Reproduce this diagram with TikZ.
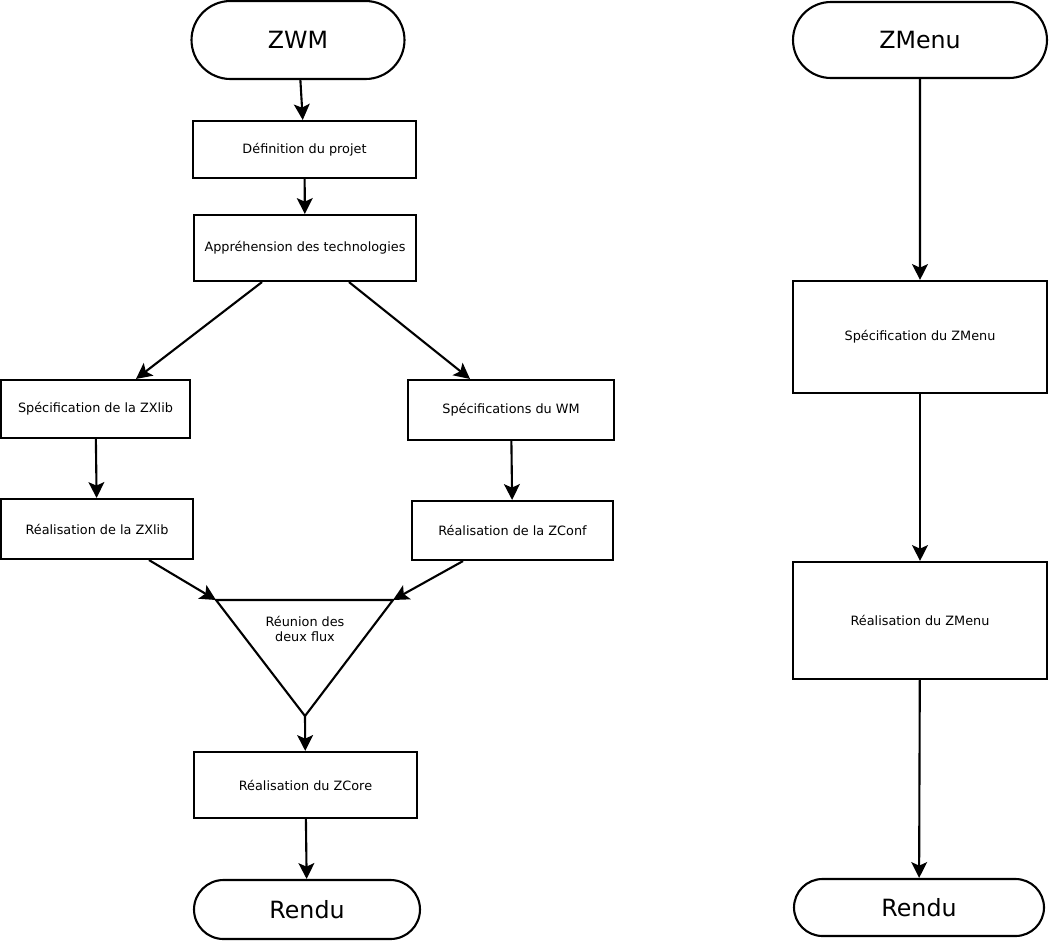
\documentclass[tikz,border=0pt]{standalone}
\usepackage{fontspec}
\setmainfont{DejaVu Sans}
\usepackage{tikz}
\usetikzlibrary{positioning, calc, arrows.meta, shapes.misc}
\tikzset{>={Stealth[length=9pt,width=9pt,inset=2pt]}}
\tikzset{
    etape/.style    = {draw, line width=1.2pt, rectangle, align=center, font=\fontsize{7.3}{8.8}\selectfont, inner sep=2pt},
    terminal/.style = {draw, line width=1.2pt, rounded rectangle, font=\fontsize{13.5}{16}\selectfont, inner sep=2pt},
    fleche/.style   = {->, line width=1.2pt},
}

\begin{document}
\begin{tikzpicture}
    \useasboundingbox (0,0) rectangle (21.04,-18.84);
    % colonne ZWM
    \node [terminal, minimum width=4.40cm, minimum height=1.56cm] (zwm) at (5.96,-0.80) {ZWM};
    \node [etape, minimum width=4.46cm, minimum height=1.14cm] (definition) at (6.09,-2.99) {Définition du projet};
    \node [etape, minimum width=4.44cm, minimum height=1.32cm] (apprehension) at (6.10,-4.96) {Appréhension des technologies};
    \node [etape, minimum width=3.78cm, minimum height=1.16cm] (speczxlib) at (1.91,-8.18) {Spécification de la ZXlib};
    \node [etape, minimum width=4.12cm, minimum height=1.20cm] (specwm) at (10.22,-8.20) {Spécifications du WM};
    \node [etape, minimum width=3.84cm, minimum height=1.20cm] (realzxlib) at (1.94,-10.58) {Réalisation de la ZXlib};
    \node [etape, minimum width=4.02cm, minimum height=1.18cm] (realzconf) at (10.25,-10.61) {Réalisation de la ZConf};
    \coordinate (reunionG) at (4.32,-12.00);
    \coordinate (reunionD) at (7.86,-12.00);
    \coordinate (reunionB) at (6.10,-14.32);
    \draw [line width=1.2pt, line join=miter] (reunionG) -- (reunionD) -- (reunionB) -- cycle;
    \node [align=center, font=\fontsize{7.3}{8.8}\selectfont] (reunion) at (6.10,-12.58) {Réunion des\\deux flux};
    \node [etape, minimum width=4.46cm, minimum height=1.32cm] (realzcore) at (6.11,-15.70) {Réalisation du ZCore};
    \node [terminal, minimum width=4.66cm, minimum height=1.18cm] (renduwm) at (6.14,-18.19) {Rendu};

    \draw [fleche] (zwm) -- (definition);
    \draw [fleche] (definition) -- (apprehension);
    \draw [fleche] ([xshift=-0.86cm]apprehension.south) -- ([xshift=0.81cm]speczxlib.north);
    \draw [fleche] ([xshift=0.88cm]apprehension.south) -- ([xshift=-0.82cm]specwm.north);
    \draw [fleche] (speczxlib) -- (realzxlib);
    \draw [fleche] (specwm) -- (realzconf);
    \draw [fleche] ([xshift=1.04cm]realzxlib.south) -- (reunionG);
    \draw [fleche] ([xshift=-0.99cm]realzconf.south) -- (reunionD);
    \draw [fleche] (reunionB) -- (realzcore);
    \draw [fleche] (realzcore) -- (renduwm);

    % colonne ZMenu
    \node [terminal, minimum width=5.22cm, minimum height=1.52cm] (zmenu) at (18.40,-0.80) {ZMenu};
    \node [etape, minimum width=5.08cm, minimum height=2.24cm] (specmenu) at (18.40,-6.74) {Spécification du ZMenu};
    \node [etape, minimum width=5.08cm, minimum height=2.34cm] (realmenu) at (18.40,-12.41) {Réalisation du ZMenu};
    \node [terminal, minimum width=5.14cm, minimum height=1.14cm] (rendumenu) at (18.38,-18.15) {Rendu};

    \draw [fleche] (zmenu) -- (specmenu);
    \draw [fleche] (specmenu) -- (realmenu);
    \draw [fleche] (realmenu) -- (rendumenu);
\end{tikzpicture}
\end{document}
